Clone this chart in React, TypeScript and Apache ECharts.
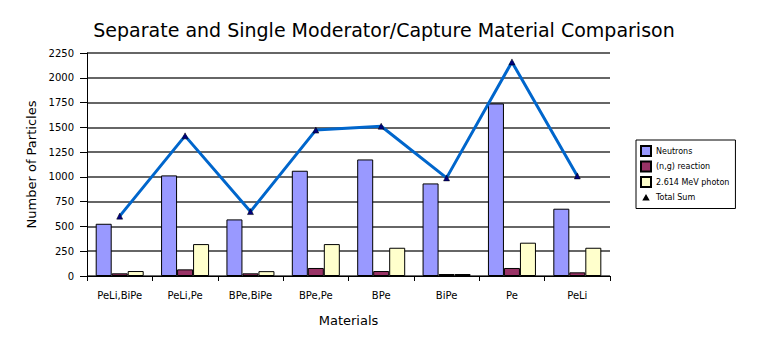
import React, { useEffect, useRef } from "react";
import * as echarts from "echarts";

const categories = ["PeLi,BiPe", "PeLi,Pe", "BPe,BiPe", "BPe,Pe", "BPe", "BiPe", "Pe", "PeLi"];
const neutrons = [527, 1015, 571, 1062, 1176, 934, 1741, 679];
const ngReaction = [27, 67, 27, 81, 50, 20, 81, 37];
const photon = [50, 322, 49, 322, 285, 20, 336, 285];
const totalSum = [604, 1414, 650, 1472, 1511, 990, 2160, 1010];
const yTicks = { min: 0, max: 2250, interval: 250 };

export default function App() {
  const ref = useRef<HTMLDivElement>(null);
  useEffect(() => {
    if (!ref.current) return;
    const chart = echarts.init(ref.current, null, { renderer: "svg" });
    const font = "DejaVu Sans";
    chart.setOption({
      animation: false,
      backgroundColor: "#ffffff",
      title: {
        text: "Separate and Single Moderator/Capture Material Comparison",
        left: 371,
        textAlign: "center",
        top: 7,
        textStyle: { fontFamily: font, fontSize: 19, fontWeight: "normal", color: "#000" },
      },
      legend: {
        orient: "vertical",
        left: 628,
        top: 132,
        width: 105,
        padding: [5, 6, 5, 4],
        borderColor: "#000",
        borderWidth: 1,
        itemWidth: 10,
        itemHeight: 10,
        itemGap: 3.5,
        textStyle: { fontFamily: font, fontSize: 8, color: "#000" },
        data: [
          { name: "Neutrons", icon: "rect" },
          { name: "(n,g) reaction", icon: "rect" },
          { name: "2.614 MeV photon", icon: "rect" },
          {
            name: "Total Sum",
            icon: "path://M0,0 M10,10 M3,7 L5,3.5 L7,7 Z",
            itemStyle: { color: "#000080" },
          },
        ],
      },
      grid: { left: 79, right: 145, top: 45, bottom: 74 },
      xAxis: {
        type: "category",
        data: categories,
        name: "Materials",
        nameLocation: "middle",
        nameGap: 38,
        nameTextStyle: { fontFamily: font, fontSize: 13, color: "#000" },
        axisLine: { lineStyle: { color: "#000", width: 1 } },
        axisTick: { show: true, length: 5, lineStyle: { color: "#000" } },
        axisLabel: { fontFamily: font, fontSize: 10, color: "#000", margin: 14 },
      },
      yAxis: {
        type: "value",
        min: yTicks.min,
        max: yTicks.max,
        interval: yTicks.interval,
        name: "Number of Particles",
        nameLocation: "middle",
        nameGap: 48,
        nameTextStyle: { fontFamily: font, fontSize: 13, color: "#000" },
        axisLine: { show: true, lineStyle: { color: "#000", width: 1 } },
        axisTick: { show: true, length: 7, lineStyle: { color: "#000" } },
        axisLabel: {
          fontFamily: font,
          fontSize: 10,
          color: "#000",
          margin: 13,
          formatter: (v: number) => String(v),
        },
        splitLine: { show: true, lineStyle: { color: "#333", width: 1.5 } },
      },
      series: [
        {
          name: "Neutrons",
          type: "bar",
          data: neutrons,
          barWidth: 16,
          barGap: "0%",
          itemStyle: { color: "#9999FF", borderColor: "#000", borderWidth: 1 },
        },
        {
          name: "(n,g) reaction",
          type: "bar",
          data: ngReaction,
          barWidth: 16,
          barGap: "0%",
          itemStyle: { color: "#993366", borderColor: "#000", borderWidth: 1 },
        },
        {
          name: "2.614 MeV photon",
          type: "bar",
          data: photon,
          barWidth: 16,
          barGap: "0%",
          itemStyle: { color: "#FFFFCC", borderColor: "#000", borderWidth: 1 },
        },
        {
          name: "Total Sum",
          type: "line",
          data: totalSum,
          symbol: "triangle",
          symbolSize: 6,
          z: 5,
          lineStyle: { color: "#0066CC", width: 3 },
          itemStyle: { color: "#000080", borderColor: "#000", borderWidth: 0.5 },
        },
      ],
    });
    return () => chart.dispose();
  }, []);
  return <div ref={ref} style={{ width: 747, height: 342 }} />;
}
